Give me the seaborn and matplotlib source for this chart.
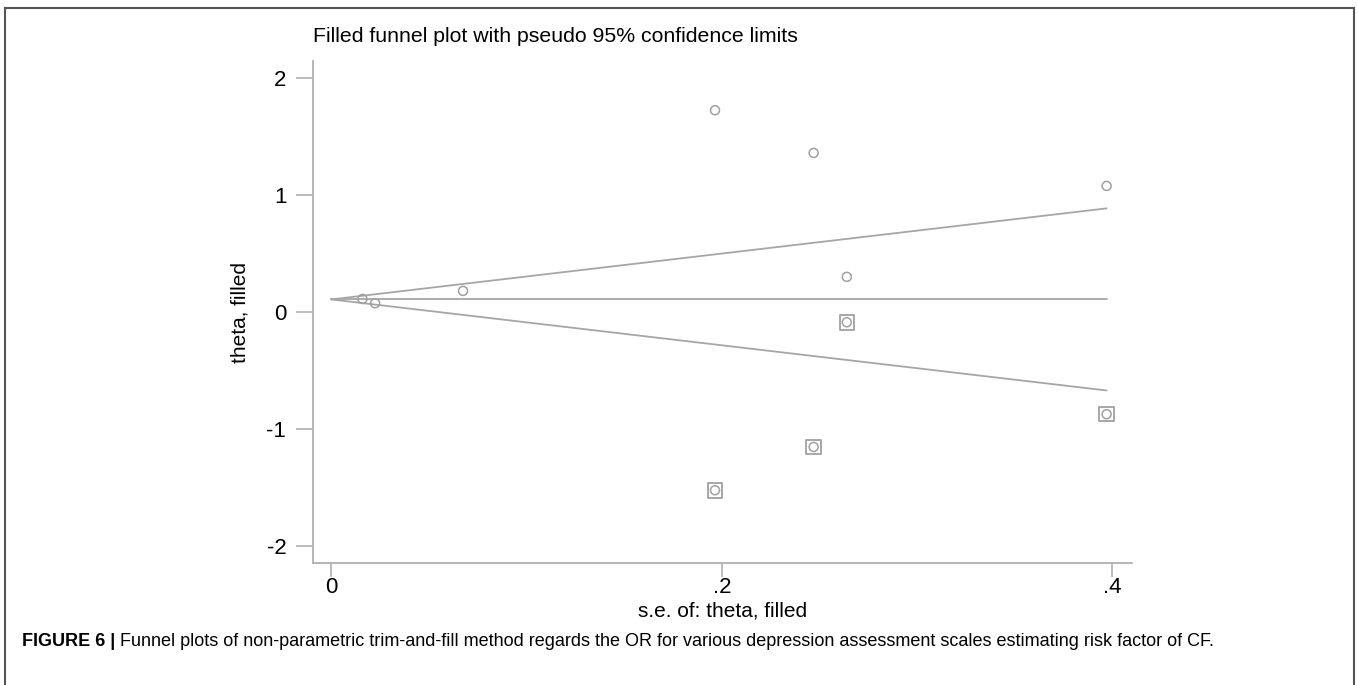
import matplotlib
matplotlib.use("Agg")
import matplotlib.pyplot as plt
import seaborn as sns
import pandas as pd
import numpy as np
from matplotlib.patches import Rectangle

# ---- data ----
se_observed = [0.016, 0.0225, 0.0675, 0.1965, 0.247, 0.264, 0.397]
theta_observed = [0.111, 0.074, 0.180, 1.724, 1.359, 0.300, 1.077]
se_filled = [0.1965, 0.247, 0.264, 0.397]
theta_filled = [-1.524, -1.154, -0.088, -0.874]
pooled_theta = 0.107
se_max = 0.397
x_ticks = [0, 0.2, 0.4]
x_ticklabels = ["0", ".2", ".4"]
y_ticks = [-2, -1, 0, 1, 2]
y_ticklabels = ["-2", "-1", "0", "1", "2"]

title = "Filled funnel plot with pseudo 95% confidence limits"
xlabel = "s.e. of: theta, filled"
ylabel = "theta, filled"
caption_bold = "FIGURE 6 |"
caption_rest = (" Funnel plots of non-parametric trim-and-fill method regards the OR for "
                "various depression assessment scales estimating risk factor of CF.")

sns.set_theme(style="white")
plt.rcParams["font.family"] = ["Liberation Sans", "DejaVu Sans"]

fig = plt.figure(figsize=(13.57, 6.85), dpi=100)
ax = fig.add_axes([0.2304, 0.1777, 0.8342 - 0.2304, 0.911 - 0.1777])

line_c = "#a6a6a6"
mark_c = "#a0a0a0"

# funnel lines
lines_df = pd.DataFrame({
    "se": [0, se_max, 0, se_max, 0, se_max],
    "theta": [pooled_theta, pooled_theta + 1.96 * se_max,
              pooled_theta, pooled_theta,
              pooled_theta, pooled_theta - 1.96 * se_max],
    "grp": ["u", "u", "c", "c", "l", "l"],
})
sns.lineplot(data=lines_df, x="se", y="theta", units="grp", estimator=None,
             color=line_c, lw=1.3, ax=ax, sort=False)

all_df = pd.DataFrame({"se": se_observed + se_filled,
                       "theta": theta_observed + theta_filled})
sns.scatterplot(data=all_df, x="se", y="theta", marker="o", s=42,
                facecolor="none", edgecolor=mark_c, linewidth=1.1, ax=ax, zorder=3)
fill_df = pd.DataFrame({"se": se_filled, "theta": theta_filled})
sns.scatterplot(data=fill_df, x="se", y="theta", marker="s", s=110,
                facecolor="none", edgecolor=mark_c, linewidth=1.3, ax=ax, zorder=3)

ax.set_xlim(-0.0095, 0.410)
ax.set_ylim(-2.148, 2.145)
ax.set_xticks(x_ticks)
ax.set_xticklabels(x_ticklabels)
ax.set_yticks(y_ticks)
ax.set_yticklabels(y_ticklabels)
for s in ["top", "right"]:
    ax.spines[s].set_visible(False)
for s in ["left", "bottom"]:
    ax.spines[s].set_color("#b0b0b0")
    ax.spines[s].set_linewidth(1.3)
ax.tick_params(axis="both", which="major", width=1.2, color="#b0b0b0",
               labelsize=16, labelcolor="black", direction="out",
               bottom=True, left=True)
ax.tick_params(axis="x", length=10, pad=0)
ax.tick_params(axis="y", length=12, pad=7)
ax.set_xlabel(xlabel, fontsize=15, color="black", labelpad=2.5)
ax.set_ylabel(ylabel, fontsize=15, color="black", labelpad=12)
ax.set_title(title, fontsize=15.3, color="black", loc="left", pad=14)
ax.grid(False)

# caption
cap_fam = ["Liberation Sans Narrow", "Liberation Sans", "DejaVu Sans"]
fig.text(22 / 1357, 1 - 641 / 685, caption_bold, fontsize=13, fontweight="bold",
         va="center", ha="left", color="black", family=cap_fam)
t0 = fig.text(0, 0, caption_bold, fontsize=13, fontweight="bold", family=cap_fam)
fig.canvas.draw()
w = t0.get_window_extent().width
t0.remove()
fig.text((22 + w) / 1357, 1 - 641 / 685, caption_rest, fontsize=13,
         va="center", ha="left", color="black", family=cap_fam)

# figure frame
fig.patches.append(Rectangle((5 / 1357, -0.01), (1354 - 5) / 1357, 1 - 8 / 685 + 0.01,
                             transform=fig.transFigure, fill=False,
                             edgecolor="#555555", lw=1.5))

fig.savefig("out.png", dpi=100)
